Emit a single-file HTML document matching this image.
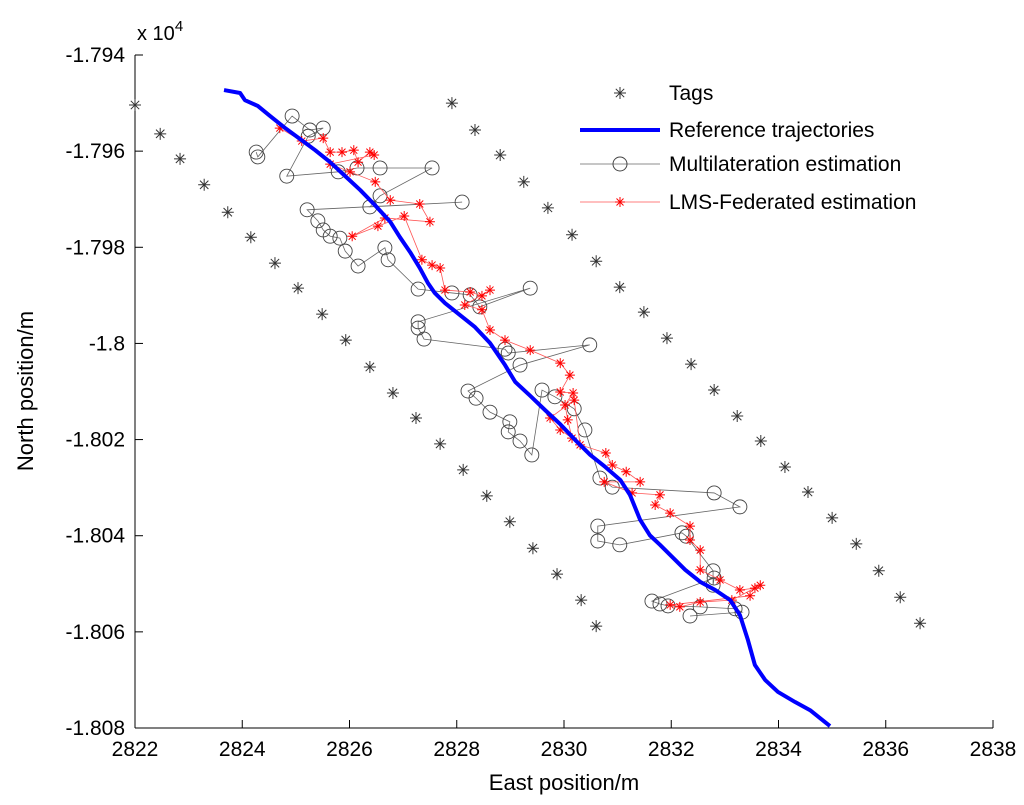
<!DOCTYPE html>
<html><head><meta charset="utf-8"><style>
html,body{margin:0;padding:0;background:#fff;}
svg{display:block;font-family:"Liberation Sans",Arial,sans-serif;}
</style></head><body>
<svg id="chart" width="1024" height="805" viewBox="0 0 1024 805"></svg>
<script>
const xTicks=[2822,2824,2826,2828,2830,2832,2834,2836,2838];
const yTicks=[-17940,-17960,-17980,-18000,-18020,-18040,-18060,-18080];
const yTickLabels=["-1.794","-1.796","-1.798","-1.8","-1.802","-1.804","-1.806","-1.808"];
const tagsEast=[2822.0,2822.47,2822.84,2823.29,2823.73,2824.16,2824.61,2825.04,2825.49,2825.93,2826.38,2826.81,2827.24,2827.69,2828.12,2828.56,2828.99,2829.42,2829.87,2830.32,2830.6,
2827.91,2828.34,2828.81,2829.25,2829.70,2830.15,2830.60,2831.04,2831.49,2831.92,2832.37,2832.80,2833.23,2833.67,2834.12,2834.55,2835.0,2835.45,2835.87,2836.27,2836.64];
const tagsNorth=[-17950.4,-17956.4,-17961.6,-17967.0,-17972.7,-17977.9,-17983.3,-17988.5,-17993.9,-17999.3,-18004.9,-18010.3,-18015.5,-18020.9,-18026.3,-18031.7,-18037.1,-18042.6,-18048.0,-18053.4,-18058.8,
-17950.0,-17955.6,-17960.8,-17966.4,-17971.8,-17977.4,-17982.9,-17988.3,-17993.5,-17998.9,-18004.3,-18009.7,-18015.1,-18020.3,-18025.7,-18030.9,-18036.3,-18041.7,-18047.3,-18052.8,-18058.2];
const refEast=[2823.66,2823.96,2824.05,2824.29,2824.52,2824.80,2825.08,2825.36,2825.64,2825.92,2826.20,2826.48,2826.76,2826.94,2827.13,2827.31,2827.46,2827.59,2827.78,2828.06,2828.34,2828.62,2828.90,2829.09,2829.37,2829.65,2829.93,2830.21,2830.49,2830.77,2831.05,2831.23,2831.42,2831.60,2831.79,2831.98,2832.26,2832.54,2832.82,2833.10,2833.28,2833.43,2833.56,2833.75,2833.99,2834.31,2834.59,2834.77,2834.96];
const refNorth=[-17947.3,-17947.9,-17949.4,-17950.6,-17952.7,-17955.2,-17957.5,-17959.8,-17962.3,-17965.2,-17968.1,-17971.3,-17974.7,-17977.9,-17981.0,-17984.3,-17987.4,-17989.5,-17991.6,-17994.1,-17996.6,-17999.9,-18004.5,-18008.0,-18010.9,-18013.9,-18016.8,-18020.1,-18023.2,-18025.7,-18028.4,-18031.5,-18036.7,-18039.9,-18041.9,-18044.0,-18047.1,-18049.6,-18051.3,-18053.4,-18056.5,-18061.7,-18066.9,-18070.0,-18072.5,-18074.6,-18076.3,-18077.9,-18079.6];
const mlEast=[2824.26,2824.29,2824.93,2825.26,2825.51,2825.23,2824.83,2825.79,2826.14,2826.57,2827.54,2826.57,2826.38,2828.10,2825.21,2825.41,2825.51,2825.64,2825.82,2825.92,2826.16,2826.66,2826.72,2827.28,2827.91,2828.25,2828.43,2829.37,2827.28,2827.28,2827.39,2828.90,2828.96,2830.48,2829.18,2828.21,2828.36,2828.62,2828.99,2828.96,2829.18,2829.40,2829.59,2829.83,2830.19,2830.39,2830.67,2830.90,2832.80,2833.28,2830.63,2830.63,2831.04,2832.20,2832.28,2832.78,2832.78,2832.80,2831.64,2831.79,2831.94,2832.54,2833.19,2833.32,2832.35];
const mlNorth=[-17960.2,-17961.2,-17952.7,-17955.6,-17955.2,-17956.9,-17965.2,-17964.3,-17963.5,-17963.5,-17963.5,-17969.3,-17971.6,-17970.6,-17972.2,-17974.5,-17976.4,-17977.7,-17978.1,-17980.8,-17983.9,-17980.1,-17982.6,-17988.7,-17989.5,-17989.9,-17992.4,-17988.5,-17995.5,-17996.8,-17999.1,-18001.2,-18002.0,-18000.3,-18004.5,-18009.9,-18011.4,-18014.3,-18016.3,-18018.4,-18020.3,-18023.2,-18009.7,-18011.1,-18013.6,-18018.0,-18028.0,-18029.9,-18031.1,-18034.0,-18038.0,-18041.1,-18041.9,-18039.4,-18040.1,-18047.3,-18050.3,-18048.8,-18053.6,-18054.2,-18054.6,-18054.8,-18055.2,-18055.9,-18056.7];
const lmsEast=[2824.70,2825.11,2825.51,2825.64,2825.86,2826.08,2826.16,2826.38,2826.46,2825.64,2826.01,2826.48,2826.76,2827.31,2827.50,2826.66,2826.05,2826.53,2827.02,2827.35,2827.54,2827.69,2827.78,2828.25,2828.47,2828.62,2828.15,2828.47,2828.62,2828.90,2829.37,2829.93,2830.11,2829.93,2830.17,2830.02,2830.07,2830.15,2829.93,2829.74,2830.19,2830.30,2830.78,2830.90,2831.16,2831.42,2830.75,2831.27,2831.79,2831.70,2831.98,2832.35,2832.35,2832.54,2832.54,2832.91,2833.28,2833.56,2833.66,2833.13,2832.54,2832.16,2831.98,2833.47];
const lmsNorth=[-17955.2,-17957.9,-17957.3,-17960.2,-17960.2,-17959.8,-17962.3,-17960.2,-17960.8,-17962.7,-17964.3,-17966.4,-17970.2,-17971.0,-17974.7,-17973.9,-17977.7,-17975.6,-17973.5,-17982.6,-17983.7,-17984.3,-17988.9,-17989.3,-17990.1,-17988.9,-17992.0,-17993.0,-17997.2,-17999.3,-18001.4,-18004.1,-18006.6,-18010.1,-18010.3,-18012.8,-18015.9,-18019.7,-18018.0,-18015.5,-18011.8,-18021.1,-18022.8,-18025.3,-18026.7,-18028.8,-18028.8,-18031.1,-18031.5,-18033.6,-18035.3,-18038.0,-18040.9,-18043.0,-18047.1,-18049.2,-18051.3,-18050.9,-18050.3,-18053.4,-18053.8,-18054.8,-18054.4,-18052.5];
const legendLabels=["Tags","Reference trajectories","Multilateration estimation","LMS-Federated estimation"];

const L=135,R=993,T=55,B=728;
const X=v=>L+(v-2822)/(2838-2822)*(R-L);
const Y=v=>T+(-17940-v)/(140)*(B-T);
const svg=document.getElementById('chart');
const NS='http://www.w3.org/2000/svg';
function mk(tag,attrs,parent){const e=document.createElementNS(NS,tag);for(const k in attrs)e.setAttribute(k,attrs[k]);(parent||svg).appendChild(e);return e;}
function star(g,cx,cy,col,s){
  mk('path',{d:`M${cx-s},${cy}H${cx+s}M${cx},${cy-s}V${cy+s}M${cx-s*0.7},${cy-s*0.7}L${cx+s*0.7},${cy+s*0.7}M${cx-s*0.7},${cy+s*0.7}L${cx+s*0.7},${cy-s*0.7}`,stroke:col,'stroke-width':1,fill:'none'},g);
}
const axes=mk('g',{});


mk('line',{x1:L,y1:T,x2:L,y2:B,stroke:'#000'},axes);
mk('line',{x1:L,y1:B,x2:R,y2:B,stroke:'#000'},axes);
xTicks.forEach(t=>{
  mk('line',{x1:X(t),y1:B,x2:X(t),y2:B-8,stroke:'#000'},axes);
  const tx=mk('text',{x:X(t),y:B+28,'text-anchor':'middle','font-size':21},axes);tx.textContent=t;
  
  
});
yTicks.forEach((t,i)=>{
  mk('line',{x1:L,y1:Y(t),x2:L+8,y2:Y(t),stroke:'#000'},axes);
  const tx=mk('text',{x:L-10,y:Y(t)+7,'text-anchor':'end','font-size':21},axes);tx.textContent=yTickLabels[i];
  
  
});
const ex=mk('text',{x:137,y:40,'font-size':20},axes);ex.innerHTML='x 10<tspan dy="-9" font-size="15">4</tspan>';


const xl=mk('text',{x:564,y:790,'text-anchor':'middle','font-size':22},axes);xl.textContent='East position/m';


const yl=mk('text',{x:0,y:0,'text-anchor':'middle','font-size':22,transform:'translate(33,391) rotate(-90)'},axes);yl.textContent='North position/m';


const tg=mk('g',{});


tagsEast.forEach((e,i)=>star(tg,X(e),Y(tagsNorth[i]),'#333',6));
const mg=mk('g',{});


mk('polyline',{points:mlEast.map((e,i)=>X(e)+','+Y(mlNorth[i])).join(' '),fill:'none',stroke:'#666','stroke-width':0.8},mg);
mlEast.forEach((e,i)=>mk('circle',{cx:X(e),cy:Y(mlNorth[i]),r:7,fill:'none',stroke:'#444','stroke-width':0.9},mg));
const lg=mk('g',{});


mk('polyline',{points:lmsEast.map((e,i)=>X(e)+','+Y(lmsNorth[i])).join(' '),fill:'none',stroke:'#f55','stroke-width':0.8},lg);
lmsEast.forEach((e,i)=>star(lg,X(e),Y(lmsNorth[i]),'#f00',5));
const rl=mk('polyline',{points:refEast.map((e,i)=>X(e)+','+Y(refNorth[i])).join(' '),fill:'none',stroke:'#0000ff','stroke-width':4,'stroke-linejoin':'round'});


const leg=mk('g',{});


const ly=[93,130,164,202];
legendLabels.forEach((lab,i)=>{
  const g=mk('g',{},leg);
  
  
  const y=ly[i],cx=620;
  if(i===0)star(g,cx,y,'#333',6);
  if(i===1)mk('line',{x1:580,y1:y,x2:660,y2:y,stroke:'#0000ff','stroke-width':4},g);
  if(i===2){mk('line',{x1:580,y1:y,x2:660,y2:y,stroke:'#666','stroke-width':0.8},g);mk('circle',{cx:cx,cy:y,r:7,fill:'none',stroke:'#444'},g);}
  if(i===3){mk('line',{x1:580,y1:y,x2:660,y2:y,stroke:'#f55','stroke-width':0.8},g);star(g,cx,y,'#f00',5);}
  const t=mk('text',{x:669,y:y+7,'font-size':21},g);t.textContent=lab;
});
</script>
</body></html>
